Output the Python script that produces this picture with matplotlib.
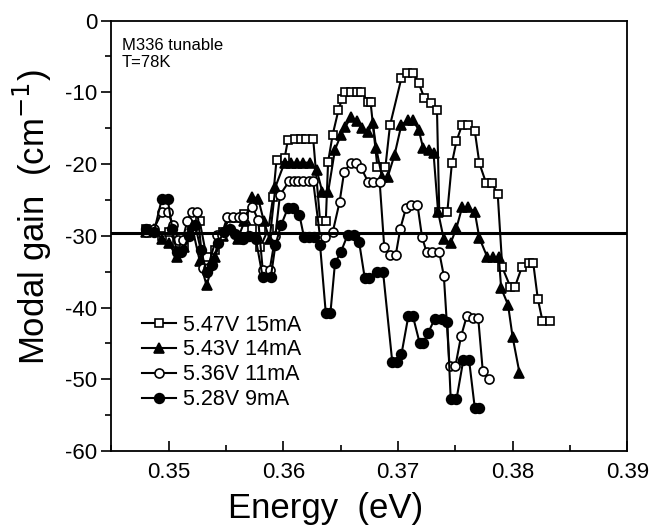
import matplotlib
matplotlib.use("Agg")
import matplotlib.pyplot as plt
from matplotlib.ticker import MultipleLocator

plt.rcParams['font.family'] = ['Liberation Sans', 'DejaVu Sans']
plt.rcParams['axes.unicode_minus'] = False

# 5.47V 15mA (open squares)
x_sq = [0.3480, 0.3487, 0.3494, 0.3500, 0.3507, 0.3513, 0.3520, 0.3527, 0.3533, 0.3540,
        0.3547, 0.3553, 0.3560, 0.3566, 0.3573, 0.3580, 0.3587, 0.3591, 0.3594, 0.3601,
        0.3604, 0.3610, 0.3615, 0.3620, 0.3626, 0.3632, 0.3637, 0.3639, 0.3643, 0.3648,
        0.3651, 0.3654, 0.3659, 0.3664, 0.3668, 0.3674, 0.3676, 0.3682, 0.3689, 0.3693,
        0.3703, 0.3708, 0.3713, 0.3718, 0.3723, 0.3729, 0.3734, 0.3736, 0.3743, 0.3747,
        0.3751, 0.3756, 0.3761, 0.3767, 0.3771, 0.3777, 0.3782, 0.3787, 0.3791, 0.3798,
        0.3802, 0.3808, 0.3814, 0.3818, 0.3822, 0.3826, 0.3833]
y_sq = [-29.0, -29.5, -30.0, -29.5, -31.0, -31.5, -29.0, -28.0, -33.0, -32.0,
        -29.5, -27.5, -27.5, -27.0, -29.0, -31.5, -29.0, -24.6, -19.4, -19.2,
        -16.6, -16.5, -16.5, -16.5, -16.5, -27.9, -27.9, -19.7, -15.9, -12.5,
        -11.0, -10.0, -10.0, -10.0, -10.0, -11.3, -11.3, -20.4, -20.4, -14.6,
        -8.0, -7.3, -7.3, -8.7, -10.8, -11.5, -12.4, -26.7, -26.7, -19.9,
        -16.8, -14.5, -14.5, -15.4, -19.9, -22.7, -22.7, -24.2, -34.4, -37.1,
        -37.1, -34.4, -33.8, -33.8, -38.8, -41.8, -41.8]

# 5.43V 14mA (filled triangles)
x_tr = [0.3480, 0.3487, 0.3494, 0.3500, 0.3507, 0.3513, 0.3520, 0.3527, 0.3533, 0.3540,
        0.3547, 0.3553, 0.3560, 0.3566, 0.3573, 0.3578, 0.3583, 0.3588, 0.3593, 0.3601,
        0.3607, 0.3612, 0.3617, 0.3623, 0.3629, 0.3634, 0.3639, 0.3645, 0.3650, 0.3654,
        0.3659, 0.3664, 0.3669, 0.3674, 0.3678, 0.3681, 0.3686, 0.3691, 0.3697, 0.3703,
        0.3709, 0.3713, 0.3718, 0.3722, 0.3727, 0.3731, 0.3735, 0.3740, 0.3746, 0.3751,
        0.3756, 0.3761, 0.3767, 0.3771, 0.3778, 0.3783, 0.3788, 0.3790, 0.3796, 0.3800,
        0.3806]
y_tr = [-29.5, -29.0, -30.5, -31.0, -33.0, -31.5, -28.5, -33.5, -36.9, -33.0,
        -30.0, -29.0, -30.5, -28.0, -24.6, -24.8, -28.0, -30.5, -23.2, -19.8,
        -19.8, -19.8, -19.8, -19.8, -20.8, -23.9, -23.9, -18.0, -16.0, -14.8,
        -13.5, -14.0, -15.0, -15.5, -14.3, -17.8, -21.8, -21.8, -18.7, -14.5,
        -13.9, -13.9, -15.2, -17.8, -18.0, -18.5, -26.7, -30.5, -31.0, -28.9,
        -26.0, -26.0, -26.7, -30.3, -33.0, -33.0, -33.0, -37.3, -39.6, -44.1,
        -49.1]

# 5.36V 11mA (open circles)
x_oc = [0.3480, 0.3487, 0.3494, 0.3499, 0.3504, 0.3508, 0.3512, 0.3516, 0.3520, 0.3525,
        0.3530, 0.3534, 0.3542, 0.3546, 0.3551, 0.3556, 0.3561, 0.3565, 0.3573, 0.3578,
        0.3582, 0.3588, 0.3593, 0.3597, 0.3605, 0.3609, 0.3613, 0.3617, 0.3622, 0.3626,
        0.3632, 0.3636, 0.3643, 0.3649, 0.3653, 0.3659, 0.3663, 0.3668, 0.3674, 0.3678,
        0.3684, 0.3688, 0.3693, 0.3698, 0.3702, 0.3707, 0.3711, 0.3717, 0.3721, 0.3725,
        0.3730, 0.3736, 0.3740, 0.3745, 0.3750, 0.3755, 0.3760, 0.3765, 0.3770, 0.3774,
        0.3779]
y_oc = [-29.5, -29.0, -26.7, -26.7, -28.5, -30.6, -30.6, -28.0, -26.7, -26.7,
        -34.5, -34.5, -29.9, -29.9, -27.4, -27.4, -27.4, -27.4, -26.0, -27.8,
        -34.8, -34.8, -30.0, -24.3, -22.4, -22.4, -22.4, -22.4, -22.4, -22.4,
        -30.2, -30.2, -29.5, -25.3, -21.1, -19.8, -19.8, -20.6, -22.5, -22.5,
        -22.5, -31.6, -32.7, -32.7, -29.0, -26.1, -25.7, -25.7, -30.2, -32.3,
        -32.3, -32.3, -35.6, -48.2, -48.2, -44.0, -41.2, -41.5, -41.5, -48.9,
        -50.0]

# 5.28V 9mA (filled circles)
x_fc = [0.3480, 0.3487, 0.3494, 0.3499, 0.3503, 0.3507, 0.3511, 0.3518, 0.3523, 0.3528,
        0.3533, 0.3538, 0.3543, 0.3548, 0.3553, 0.3558, 0.3565, 0.3570, 0.3576, 0.3582,
        0.3589, 0.3593, 0.3598, 0.3604, 0.3608, 0.3614, 0.3618, 0.3622, 0.3627, 0.3632,
        0.3637, 0.3641, 0.3645, 0.3650, 0.3656, 0.3662, 0.3666, 0.3671, 0.3675, 0.3682,
        0.3687, 0.3695, 0.3699, 0.3703, 0.3709, 0.3713, 0.3719, 0.3722, 0.3726, 0.3732,
        0.3738, 0.3743, 0.3746, 0.3751, 0.3757, 0.3762, 0.3767, 0.3771]
y_fc = [-29.0, -29.5, -24.8, -24.8, -29.0, -32.3, -32.3, -30.0, -28.5, -32.0,
        -35.0, -34.0, -31.0, -29.5, -29.0, -29.8, -30.5, -30.0, -30.5, -35.8,
        -35.8, -31.3, -28.5, -26.1, -26.1, -27.1, -30.2, -30.2, -30.2, -31.3,
        -40.8, -40.8, -33.8, -32.3, -29.9, -29.9, -30.8, -35.9, -35.9, -35.1,
        -35.1, -47.6, -47.6, -46.5, -41.2, -41.2, -45.0, -45.0, -43.6, -41.6,
        -41.6, -42.0, -52.8, -52.8, -47.3, -47.3, -54.0, -54.0]

labels = ['5.47V 15mA', '5.43V 14mA', '5.36V 11mA', '5.28V 9mA']
x_ticks = [0.35, 0.36, 0.37, 0.38, 0.39]
x_tick_labels = ['0.35', '0.36', '0.37', '0.38', '0.39']
threshold = -29.6

fig = plt.figure(figsize=(6.52, 5.27), dpi=100)
ax = fig.add_axes([0.171, 0.144, 0.791, 0.817])

kw = dict(color='black', lw=1.5, mew=1.2)
ax.plot(x_sq, y_sq, marker='s', ms=6, mfc='white', label=labels[0], **kw)
ax.plot(x_tr, y_tr, marker='^', ms=7.5, mfc='black', label=labels[1], **kw)
ax.plot(x_oc, y_oc, marker='o', ms=6.5, mfc='white', label=labels[2], **kw)
ax.plot(x_fc, y_fc, marker='o', ms=7, mfc='black', label=labels[3], **kw)

ax.axhline(threshold, color='black', lw=2.2)

ax.set_xlim(0.345, 0.39)
ax.set_ylim(-60, 0)
ax.xaxis.set_minor_locator(MultipleLocator(0.005))
ax.yaxis.set_major_locator(MultipleLocator(10))
ax.yaxis.set_minor_locator(MultipleLocator(5))
ax.set_xticks(x_ticks)
ax.set_xticklabels(x_tick_labels)
ax.tick_params(axis='x', which='major', direction='in', length=7, width=1.2, labelsize=16, pad=8)
ax.tick_params(axis='x', which='minor', direction='in', length=4, width=1.2)
ax.tick_params(axis='y', which='major', direction='out', length=7, width=1.2, labelsize=16, pad=3)
ax.tick_params(axis='y', which='minor', direction='out', length=4, width=1.2)
for s in ax.spines.values():
    s.set_linewidth(1.3)

ax.set_xlabel('Energy  (eV)', fontsize=25)
ax.xaxis.set_label_coords(0.416, -0.096)
ax.set_ylabel('Modal gain  (cm$^{-1}$)', fontsize=25)
ax.yaxis.set_label_coords(-0.112, 0.543)

ax.text(0.02, 0.96, 'M336 tunable\nT=78K', transform=ax.transAxes,
        fontsize=12, va='top', ha='left', linespacing=1.2)

leg = ax.legend(loc='upper left', bbox_to_anchor=(0.03, 0.352), frameon=False,
                fontsize=15.5, handlelength=1.6, handletextpad=0.3,
                labelspacing=0.18, borderpad=0.2)

fig.savefig('out.png', dpi=100)
